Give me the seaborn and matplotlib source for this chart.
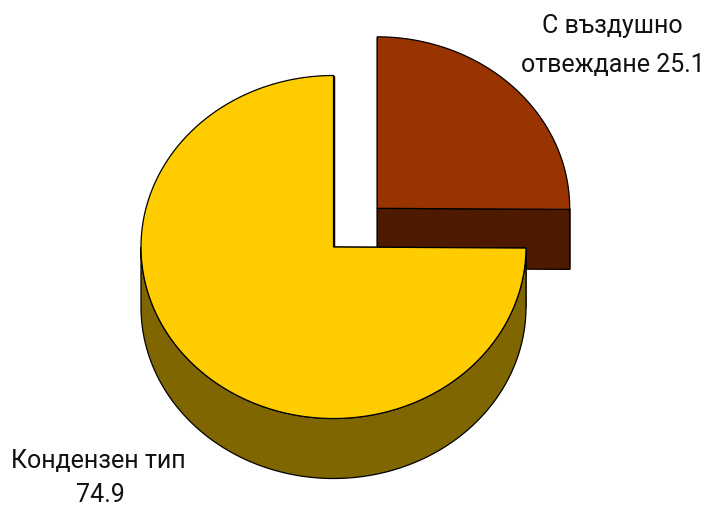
import numpy as np
import matplotlib
matplotlib.use("Agg")
import matplotlib.pyplot as plt
import seaborn as sns

sns.set_theme(style="white")
plt.rcParams['font.family'] = ['Roboto', 'DejaVu Sans']

labels = [["С въздушно", "отвеждане"], ["Кондензен тип", ""]]
values = [25.1, 74.9]
top_colors = ["#993300", "#FFCC00"]
side_colors = ["#4D1A00", "#806600"]
explode = [0.32, 0.0]

W, H = 707, 508
fig = plt.figure(figsize=(W / 100, H / 100), dpi=100)
ax = fig.add_axes([0, 0, 1, 1])
ax.set_xlim(0, W)
ax.set_ylim(H, 0)
ax.axis("off")

cx, cy = 333.5, 247.0
rx, ry = 192.5, 171.5
depth = 60.0

total = sum(values)
start = 90.0
slices = []
for v, ex in zip(values, explode):
    sweep = 360.0 * v / total
    a0, a1 = start, start - sweep
    mid = np.radians((a0 + a1) / 2)
    ox = cx + ex * rx * np.cos(mid)
    oy = cy - ex * ry * np.sin(mid)
    slices.append((a0, a1, ox, oy))
    start = a1


def pt(ox, oy, ang, dz=0.0):
    t = np.radians(ang)
    return ox + rx * np.cos(t), oy - ry * np.sin(t) + dz


ec = "black"
lw = 0.9
for i, (a0, a1, ox, oy) in enumerate(slices):
    z = 2 * i
    for a in (a0, a1):
        ex_, ey_ = pt(ox, oy, a)
        poly = [(ox, oy), (ex_, ey_), (ex_, ey_ + depth), (ox, oy + depth)]
        xs, ys = zip(*poly)
        ax.fill(xs, ys, facecolor=side_colors[i], edgecolor=ec, lw=lw, zorder=z)
    lo, hi = min(a0, a1), max(a0, a1)
    angs = np.linspace(lo, hi, 600)
    front = (angs % 360) >= 180
    if front.any():
        fa = angs[front]
        top = [pt(ox, oy, a) for a in fa]
        bot = [pt(ox, oy, a, depth) for a in fa[::-1]]
        xs, ys = zip(*(top + bot))
        ax.fill(xs, ys, facecolor=side_colors[i], edgecolor=ec, lw=lw, zorder=z)
    arc = [pt(ox, oy, a) for a in np.linspace(a0, a1, 600)]
    xs, ys = zip(*([(ox, oy)] + arc))
    ax.fill(xs, ys, facecolor=top_colors[i], edgecolor=ec, lw=lw, zorder=z + 1)

fs = 18
kw = dict(ha="center", va="baseline", fontsize=fs, color="#111111")
ax.text(612, 33, labels[0][0], **kw)
ax.text(613, 72, f"{labels[0][1]} {values[0]}", **kw)
ax.text(98, 468, labels[1][0], **kw)
ax.text(100, 502, f"{values[1]}", **kw)

fig.savefig("out.png", dpi=100)
